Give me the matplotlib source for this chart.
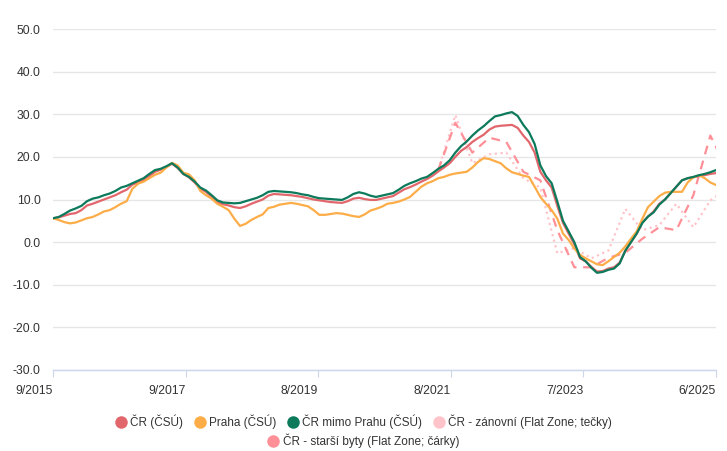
import numpy as np
import pandas as pd
import matplotlib
matplotlib.use("Agg")
import matplotlib.pyplot as plt
from matplotlib.lines import Line2D

plt.rcParams['font.family'] = ['Liberation Sans', 'DejaVu Sans']

# Monthly data 9/2015 .. 6/2025
months = pd.period_range('2015-09', '2025-06', freq='M')

cr = [5.6, 5.8, 6.2, 6.6, 6.8, 7.5, 8.6, 9.0, 9.5, 10.0, 10.5, 11.0, 11.7, 12.3, 13.5, 14.0,
      14.6, 15.5, 16.5, 17.0, 17.6, 18.4, 17.4, 16.0, 15.2, 14.0, 12.5, 11.8, 10.6, 9.3, 8.9, 8.6,
      8.2, 8.0, 8.4, 9.0, 9.5, 10.0, 10.9, 11.3, 11.2, 11.1, 11.0, 10.8, 10.6, 10.3, 10.0, 9.8,
      9.6, 9.4, 9.3, 9.2, 9.6, 10.2, 10.4, 10.1, 9.9, 9.9, 10.2, 10.5, 10.8, 11.6, 12.4, 12.9,
      13.5, 14.2, 14.8, 15.6, 16.6, 17.5, 18.5, 20.0, 21.4, 22.3, 23.5, 24.4, 25.2, 26.4, 27.1, 27.3,
      27.4, 27.5, 26.8, 25.0, 23.5, 21.0, 16.5, 14.5, 12.8, 8.5, 4.5, 2.0, -0.5, -3.8, -4.5, -5.8,
      -6.9, -6.8, -6.2, -5.9, -4.8, -2.0, 0.0, 2.0, 4.6, 6.0, 7.2, 9.0, 10.0, 11.5, 13.0, 14.5,
      15.0, 15.2, 15.5, 15.7, 16.0, 16.2]

praha = [5.6, 5.2, 4.7, 4.4, 4.6, 5.1, 5.6, 5.9, 6.5, 7.2, 7.5, 8.2, 9.0, 9.6, 12.5, 13.7,
         14.2, 15.0, 15.8, 16.3, 17.5, 18.6, 18.0, 16.3, 15.9, 14.5, 12.0, 11.0, 10.2, 9.0, 8.3, 7.5,
         5.5, 3.8, 4.3, 5.2, 5.9, 6.5, 8.0, 8.3, 8.8, 9.0, 9.2, 9.0, 8.7, 8.4, 7.5, 6.4,
         6.4, 6.6, 6.8, 6.7, 6.4, 6.1, 5.9, 6.5, 7.4, 7.8, 8.3, 9.0, 9.2, 9.5, 10.0, 10.6,
         11.8, 13.0, 13.8, 14.3, 15.0, 15.3, 15.8, 16.1, 16.3, 16.5, 17.5, 18.8, 19.7, 19.5, 19.0, 18.5,
         17.3, 16.4, 16.0, 15.6, 15.3, 13.0, 10.6, 9.0, 7.5, 5.5, 2.0, 0.5, -1.5, -3.0, -3.8, -4.5,
         -5.2, -5.4, -4.5, -3.5, -2.5, -1.0, 0.8, 2.5, 5.5, 8.2, 9.5, 10.8, 11.6, 11.8, 11.8, 11.8,
         14.0, 15.2, 15.7, 15.0, 14.0, 13.4]

mimo = [5.6, 5.9, 6.6, 7.4, 7.9, 8.5, 9.6, 10.2, 10.5, 11.0, 11.4, 12.0, 12.8, 13.2, 13.8, 14.4,
        15.0, 16.0, 16.9, 17.2, 17.8, 18.5, 17.5, 16.0, 15.3, 14.2, 12.8, 12.1, 11.0, 9.8, 9.3, 9.2,
        9.1, 9.2, 9.6, 10.0, 10.4, 11.0, 11.8, 12.0, 11.9, 11.8, 11.7, 11.5, 11.2, 11.0, 10.6, 10.3,
        10.2, 10.1, 10.0, 9.9, 10.5, 11.3, 11.7, 11.4, 10.9, 10.6, 10.9, 11.2, 11.5, 12.3, 13.2, 13.8,
        14.3, 14.9, 15.3, 16.2, 17.2, 18.0, 19.2, 21.0, 22.5, 23.6, 25.0, 26.2, 27.2, 28.4, 29.5, 29.8,
        30.2, 30.5, 29.6, 27.5, 25.8, 23.0, 18.0, 15.5, 13.8, 9.5, 5.0, 2.5, 0.0, -3.5, -4.5, -6.0,
        -7.2, -7.0, -6.5, -6.2, -5.0, -2.0, 0.0, 2.0, 4.5, 6.0, 7.0, 8.8, 10.0, 11.5, 13.0, 14.5,
        15.0, 15.3, 15.7, 16.0, 16.4, 16.9]

# Quarterly Flat Zone data 3/2021 .. 6/2025
fz_quarters = pd.period_range('2021-03', '2025-06', freq='3M')
zanovni = [17.0, 29.8, 18.5, 20.6, 21.0, 15.0, 12.8, -2.6, -1.4, -3.8, -2.0, 7.8,
           2.8, 4.0, 9.0, 3.5, 9.8, 12.5]
starsi = [17.0, 28.0, 21.0, 24.5, 23.5, 16.5, 14.5, 2.8, -5.9, -5.9, -3.7, -2.5,
          0.8, 3.5, 2.8, 11.0, 25.0, 16.9]

tick_labels = ['9/2015', '9/2017', '8/2019', '8/2021', '7/2023', '6/2025']

names = ['ČR (ČSÚ)', 'Praha (ČSÚ)', 'ČR mimo Prahu (ČSÚ)',
         'ČR - zánovní (Flat Zone; tečky)', 'ČR - starší byty (Flat Zone; čárky)']
colors = ['#e2676c', '#fdad48', '#0c7a5b', '#ffc4c9', '#ff9097']

x = np.arange(len(months))
x_fz = np.array([(q.asfreq('M') - months[0]).n for q in fz_quarters])

fig = plt.figure(figsize=(7.27, 4.51), dpi=100)
ax = fig.add_axes([53/727, 1-370/451, (716-53)/727, (370-29)/451])

ax.plot(x, cr, color=colors[0], lw=1.6, zorder=3)
ax.plot(x, praha, color=colors[1], lw=1.6, zorder=3)
ax.plot(x, mimo, color=colors[2], lw=1.6, zorder=4)
ax.plot(x_fz, zanovni, color=colors[3], lw=1.6, ls=(0, (1, 1.6)), zorder=2)
ax.plot(x_fz, starsi, color=colors[4], lw=1.6, ls=(0, (4, 3)), zorder=2)

ax.set_xlim(0, len(months) - 1)
ax.set_ylim(-30, 50)
ax.set_yticks(np.arange(-30, 51, 10))
ax.set_yticklabels([f'{v:.1f}' for v in np.arange(-30, 51, 10)])
ax.yaxis.grid(True, color='#e6e6e6', lw=1)
ax.set_axisbelow(True)
for s in ['top', 'right', 'left']:
    ax.spines[s].set_visible(False)
ax.spines['bottom'].set_color('#ccd6eb')
ax.spines['bottom'].set_linewidth(1)

xt = np.linspace(0, len(months) - 1, len(tick_labels))
ax.set_xticks(xt)
ax.set_xticklabels(tick_labels, ha='right')
ax.tick_params(axis='x', direction='out', length=5, color='#ccd6eb', labelsize=8.7,
               labelcolor='#333333', pad=6)
ax.tick_params(axis='y', length=0, labelsize=8.7, labelcolor='#333333', pad=9)

handles = [Line2D([], [], ls='none', marker='o', markersize=9, color=c, markeredgewidth=0)
           for c in colors]
leg1 = fig.legend(handles[:4], names[:4], loc='center', bbox_to_anchor=(0.5, 1-422/451),
                  ncol=4, frameon=False, fontsize=8.5, handletextpad=0.3, columnspacing=0.9,
                  handlelength=1.0, borderpad=0, labelcolor='#333333')
leg2 = fig.legend(handles[4:], names[4:], loc='center', bbox_to_anchor=(0.5, 1-441/451),
                  ncol=1, frameon=False, fontsize=8.5, handletextpad=0.3,
                  handlelength=1.0, borderpad=0, labelcolor='#333333')

fig.savefig('out.png', dpi=100)
